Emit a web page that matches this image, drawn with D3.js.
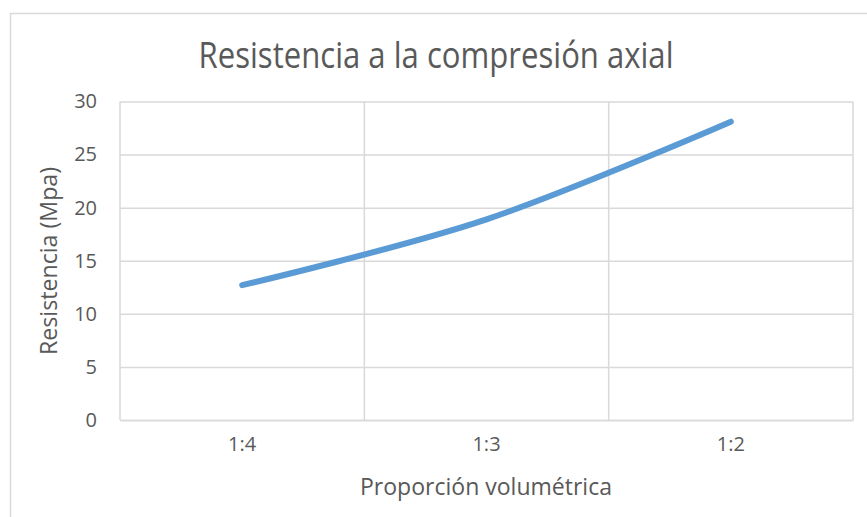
<!DOCTYPE html>
<html>
<head>
<meta charset="utf-8">
<script src="https://cdn.jsdelivr.net/npm/d3@7"></script>
<style>
  html, body { margin: 0; padding: 0; background: #fff; }
  svg { display: block; }
  text { font-family: "Open Sans", sans-serif; fill: #595959; }
</style>
</head>
<body>
<svg id="chart" width="867" height="517"></svg>
<script>
// Resistencia a la compresión axial por proporción volumétrica
const categories = ["1:4", "1:3", "1:2"];
const resistencia = [12.7, 18.9, 28.1];
const yTicks = [0, 5, 10, 15, 20, 25, 30];

const title = "Resistencia a la compresión axial";
const xTitle = "Proporción volumétrica";
const yTitle = "Resistencia (Mpa)";

const W = 867, H = 517;
const plot = { left: 120, right: 853, top: 101.5, bottom: 420 };

const svg = d3.select("#chart");

// chart frame
svg.append("rect")
  .attr("x", 10.5).attr("y", 13.5)
  .attr("width", W + 10).attr("height", H + 10)
  .attr("fill", "#fff").attr("stroke", "#d9d9d9").attr("stroke-width", 1.5);

const x = d3.scaleBand().domain(categories).range([plot.left, plot.right]).padding(0);
const y = d3.scaleLinear().domain([0, 30]).range([plot.bottom, plot.top]);

// horizontal gridlines + y axis labels
const yAxis = d3.axisLeft(y).tickValues(yTicks).tickSize(-(plot.right - plot.left)).tickPadding(23);
const gy = svg.append("g").attr("transform", `translate(${plot.left},0)`).call(yAxis);
gy.select(".domain").remove();
gy.selectAll(".tick line").attr("stroke", "#d9d9d9").attr("stroke-width", 1.5);
gy.selectAll(".tick text").attr("font-size", 20).attr("font-family", "Open Sans").attr("fill", "#595959");

// vertical gridlines at category boundaries
const bounds = categories.slice(1).map(c => x(c)).concat([plot.right]);
svg.append("g").selectAll("line").data(bounds).join("line")
  .attr("x1", d => d).attr("x2", d => d)
  .attr("y1", plot.top).attr("y2", plot.bottom)
  .attr("stroke", "#d9d9d9").attr("stroke-width", 1.5);

// plot area left edge
svg.append("line").attr("x1", plot.left).attr("x2", plot.left)
  .attr("y1", plot.top).attr("y2", plot.bottom)
  .attr("stroke", "#d9d9d9").attr("stroke-width", 1.5);

// category axis
const xAxis = d3.axisBottom(x).tickSize(0).tickPadding(17);
const gx = svg.append("g").attr("transform", `translate(0,${plot.bottom})`).call(xAxis);
gx.select(".domain").attr("stroke", "#d9d9d9").attr("stroke-width", 1.5);
gx.selectAll(".tick text").attr("font-size", 20).attr("font-family", "Open Sans").attr("fill", "#595959");

// smoothed series line
const line = d3.line()
  .x((d, i) => x(categories[i]) + x.bandwidth() / 2)
  .y(d => y(d))
  .curve(d3.curveCardinal.tension(0));

svg.append("path")
  .datum(resistencia)
  .attr("d", line)
  .attr("fill", "none")
  .attr("stroke", "#5b9bd5")
  .attr("stroke-width", 6)
  .attr("stroke-linecap", "round")
  .attr("stroke-linejoin", "round");

// titles
svg.append("text")
  .attr("x", 436).attr("y", 68)
  .attr("text-anchor", "middle")
  .attr("font-size", 36)
  .attr("textLength", 475).attr("lengthAdjust", "spacingAndGlyphs")
  .text(title);

svg.append("text")
  .attr("x", 486).attr("y", 495)
  .attr("text-anchor", "middle")
  .attr("font-size", 23)
  .attr("textLength", 252).attr("lengthAdjust", "spacingAndGlyphs")
  .text(xTitle);

svg.append("text")
  .attr("transform", "translate(57,261) rotate(-90)")
  .attr("text-anchor", "middle")
  .attr("font-size", 23)
  .attr("textLength", 188).attr("lengthAdjust", "spacingAndGlyphs")
  .text(yTitle);
</script>
</body>
</html>
